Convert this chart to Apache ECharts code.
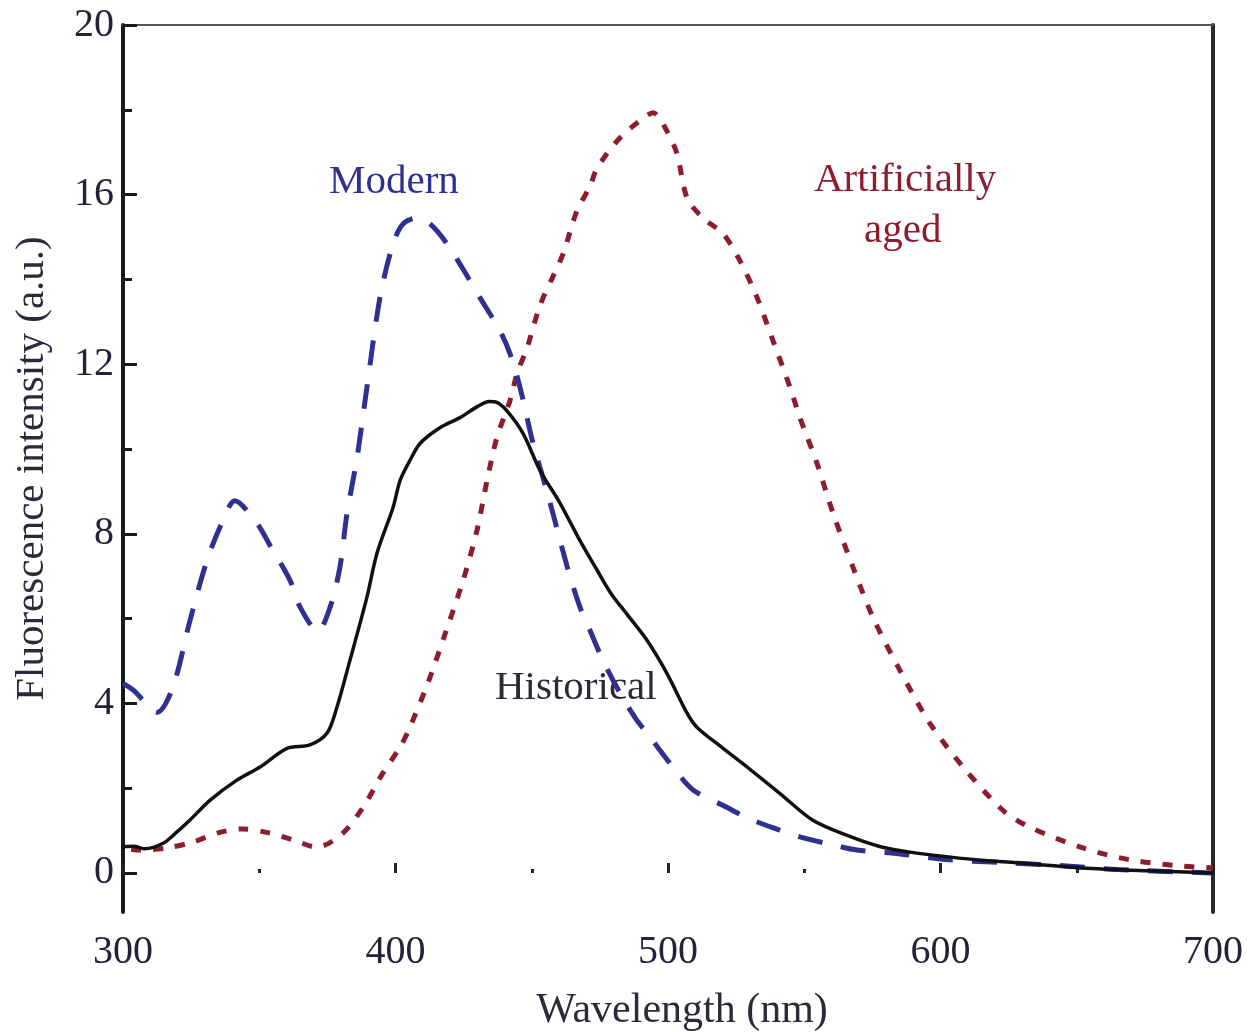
<!DOCTYPE html>
<html>
<head>
<meta charset="utf-8">
<script src="https://cdn.jsdelivr.net/npm/echarts@6/dist/echarts.min.js"></script>
<style>
  html, body { margin: 0; padding: 0; background: #fff; }
  #chart { width: 1249px; height: 1032px; }
</style>
</head>
<body>
<div id="chart"></div>
<script>
// wavelength (nm) / intensity (a.u.)
const historicalX = [300, 304, 308, 314.7, 320, 324.6, 332, 341.8, 350.3, 360.2, 368.6, 374.9, 378.5, 383.3, 389.5, 393.2, 399.1, 401.7, 405.3, 409, 416.3, 423.7, 430, 434.5, 437.2, 440.9, 446.8, 453, 460.4, 467.7, 474, 479, 485, 492.3, 499.6, 507, 510.6, 520, 529, 541, 553, 566, 578, 590, 603, 615, 628, 652, 677, 700]
const historicalY = [0.62, 0.63, 0.57, 0.7, 0.98, 1.25, 1.72, 2.19, 2.5, 2.94, 3.02, 3.3, 3.91, 5.02, 6.5, 7.54, 8.62, 9.26, 9.73, 10.13, 10.5, 10.74, 11.0, 11.12, 11.1, 10.9, 10.37, 9.5, 8.72, 7.84, 7.14, 6.6, 6.1, 5.49, 4.71, 3.77, 3.44, 2.95, 2.5, 1.88, 1.25, 0.88, 0.62, 0.48, 0.38, 0.3, 0.24, 0.12, 0.05, 0.0]

const modernX = [300, 304, 312.5, 318.3, 324.6, 330.8, 336.7, 341, 349.2, 353.9, 361.3, 365, 371.5, 376, 379.6, 382.2, 385.9, 389.5, 394.3, 399.1, 402.8, 407.9, 412.7, 418.9, 426.2, 431, 438.3, 442, 445.7, 450.5, 455.6, 462.9, 467.7, 471.4, 476.1, 482.4, 488.6, 492.3, 501.8, 509.2, 521.6, 529, 541, 548.4, 560.6, 569.4, 585, 603.5, 625, 645, 665, 700]
const modernY = [4.47, 4.3, 3.79, 4.38, 5.96, 7.37, 8.32, 8.78, 8.24, 7.73, 6.9, 6.27, 5.7, 6.27, 7.21, 8.48, 9.8, 11.45, 13.57, 14.84, 15.31, 15.45, 15.31, 14.84, 14.09, 13.57, 12.79, 12.25, 11.45, 10.13, 9.0, 7.25, 6.27, 5.72, 5.02, 4.24, 3.6, 3.3, 2.5, 1.96, 1.55, 1.3, 1.01, 0.85, 0.66, 0.54, 0.45, 0.31, 0.24, 0.17, 0.08, 0.0]

const agedX = [303, 306.2, 316.1, 325.7, 334.5, 344, 353.9, 362.4, 371.2, 380.7, 388.1, 395.4, 401.7, 405.3, 412, 418, 424.8, 429.9, 433.6, 437.2, 442, 444.6, 448.3, 453, 458, 461.5, 466.6, 471.4, 474, 482.4, 489.7, 494.5, 499.6, 503.3, 507, 512.8, 520.2, 526.4, 532.7, 538.5, 544.8, 548.4, 554.7, 560.6, 567.9, 575.2, 585.1, 596.1, 608.3, 622.9, 632.8, 652.3, 669.5, 689, 700]
const agedY = [0.56, 0.54, 0.59, 0.73, 0.94, 1.04, 0.94, 0.78, 0.61, 0.94, 1.55, 2.36, 2.97, 3.44, 4.5, 5.6, 6.9, 8.08, 9.26, 10.27, 11.14, 11.78, 12.39, 13.38, 14.1, 14.6, 15.62, 16.2, 16.63, 17.34, 17.74, 17.93, 17.5, 16.96, 15.92, 15.45, 15.08, 14.44, 13.57, 12.56, 11.45, 10.74, 9.66, 8.48, 7.21, 6.03, 4.78, 3.53, 2.5, 1.48, 1.08, 0.59, 0.31, 0.16, 0.12]

const yMajorTicks = [0, 4, 8, 12, 16, 20]
const yMinorTicks = [2, 6, 10, 14, 18]

const zip = (xs, ys) => xs.map((x, i) => [x, ys[i]])

const serif = '"Liberation Serif", "DejaVu Serif", serif'
const chart = echarts.init(document.getElementById('chart'))

const option = {
  backgroundColor: '#fff',
  animation: false,
  grid: { left: 123, right: 36, top: 25, bottom: 120, containLabel: false, outerBoundsMode: 'none' },
  xAxis: [
    {
      type: 'value',
      min: 300,
      max: 700,
      interval: 100,
      name: 'Wavelength (nm)',
      nameLocation: 'middle',
      nameGap: 78,
      nameTextStyle: { fontFamily: serif, fontSize: 42, color: '#2a2a3a', padding: [0, 0, 0, 28] },
      axisLine: { show: false },
      axisTick: { show: true, inside: true, length: 10, lineStyle: { color: '#222', width: 3 } },
      minorTick: { show: true, splitNumber: 2, length: 4, lineStyle: { color: '#222', width: 3 } },
      axisLabel: { fontFamily: serif, fontSize: 40, color: '#22223a', margin: 20 },
      splitLine: { show: false }
    },
    {
      type: 'value',
      position: 'top',
      min: 300,
      max: 700,
      axisLine: { show: true, onZero: false, lineStyle: { color: '#555', width: 2 } },
      axisTick: { show: false },
      axisLabel: { show: false },
      splitLine: { show: false }
    }
  ],
  yAxis: [
    {
      type: 'value',
      min: -0.92,
      max: 20,
      name: 'Fluorescence intensity (a.u.)',
      nameLocation: 'middle',
      nameGap: 70,
      nameTextStyle: { fontFamily: serif, fontSize: 41, color: '#2a2a3a' },
      axisLine: { show: true, onZero: false, lineStyle: { color: '#1a1a1a', width: 4 } },
      axisTick: { show: true, inside: true, length: 14, customValues: yMajorTicks, lineStyle: { color: '#1a1a1a', width: 3 } },
      axisLabel: { customValues: yMajorTicks, fontFamily: serif, fontSize: 40, color: '#22223a', margin: 9 },
      splitLine: { show: false }
    },
    {
      type: 'value',
      min: -0.92,
      max: 20,
      position: 'left',
      axisLine: { show: false },
      axisTick: { show: true, inside: true, length: 9, customValues: yMinorTicks, lineStyle: { color: '#1a1a1a', width: 3 } },
      axisLabel: { show: false },
      splitLine: { show: false }
    },
    {
      type: 'value',
      min: -0.92,
      max: 20,
      position: 'right',
      axisLine: { show: true, onZero: false, lineStyle: { color: '#2a2a2a', width: 4 } },
      axisTick: { show: false },
      axisLabel: { show: false },
      splitLine: { show: false }
    }
  ],
  graphic: [
    { type: 'text', left: 329, top: 162, style: { text: 'Modern', font: '41px ' + serif, fill: '#2e3192' } },
    { type: 'text', left: 814, top: 160, style: { text: 'Artificially', font: '41px ' + serif, fill: '#8c1d2d' } },
    { type: 'text', left: 864, top: 211, style: { text: 'aged', font: '41px ' + serif, fill: '#8c1d2d' } },
    { type: 'text', left: 495, top: 668, style: { text: 'Historical', font: '41px ' + serif, fill: '#2a2a3a' } }
  ],
  series: [
    {
      name: 'Artificially aged',
      type: 'line',
      data: zip(agedX, agedY),
      smooth: 0.3,
      showSymbol: false,
      lineStyle: { color: '#8c1d2d', width: 5, type: [10, 12] },
      z: 3
    },
    {
      name: 'Modern',
      type: 'line',
      data: zip(modernX, modernY),
      smooth: 0.3,
      showSymbol: false,
      lineStyle: { color: '#2e3192', width: 5, type: [25, 19] },
      z: 4
    },
    {
      name: 'Historical',
      type: 'line',
      data: zip(historicalX, historicalY),
      smooth: 0.3,
      showSymbol: false,
      lineStyle: { color: '#111', width: 3.5 },
      z: 5
    }
  ]
}

chart.setOption(option)
</script>
</body>
</html>
